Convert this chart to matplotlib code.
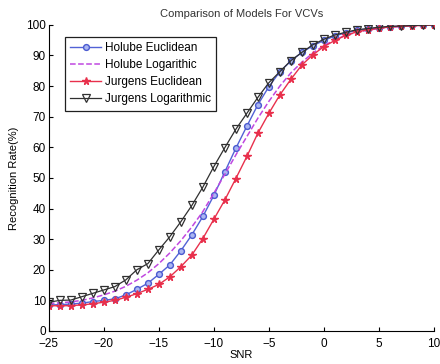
import matplotlib
matplotlib.use("Agg")
import matplotlib.pyplot as plt
import numpy as np

snr = list(range(-25, 11))

holube_euclidean = [8.5, 8.6, 8.8, 9.1, 9.6, 10.0, 10.5, 11.8, 13.6, 15.6, 18.5, 21.6, 26.2,
                    31.4, 37.4, 44.3, 52.0, 59.7, 66.9, 73.9, 79.8, 84.7, 88.2, 91.0, 93.2,
                    94.9, 96.4, 97.4, 98.2, 98.7, 99.1, 99.4, 99.6, 99.8, 99.9, 100.0]
holube_log = [9.0, 9.2, 9.5, 10.0, 10.8, 11.8, 13.0, 14.6, 16.6, 19.0, 22.0, 25.5, 29.5,
              34.0, 39.0, 45.0, 51.2, 57.5, 63.5, 69.5, 75.0, 80.0, 84.3, 87.8, 90.8,
              93.2, 95.1, 96.6, 97.6, 98.3, 98.8, 99.2, 99.5, 99.7, 99.8, 100.0]
jurgens_euclidean = [8.3, 8.2, 8.3, 8.5, 8.9, 9.4, 10.0, 11.0, 12.2, 13.6, 15.2, 17.7, 21.0,
                     24.8, 30.2, 36.5, 42.8, 49.8, 57.0, 64.6, 71.1, 77.1, 82.2, 86.9, 90.2,
                     92.9, 94.9, 96.6, 97.7, 98.4, 98.9, 99.3, 99.5, 99.7, 99.8, 100.0]
jurgens_log = [9.4, 10.0, 10.1, 11.2, 12.3, 13.4, 14.5, 16.7, 20.0, 22.0, 26.5, 30.8, 35.7,
               41.0, 47.0, 53.7, 59.9, 65.9, 71.1, 76.3, 81.1, 84.7, 88.3, 91.0, 93.5,
               95.3, 96.7, 97.6, 98.4, 98.8, 99.2, 99.5, 99.6, 99.8, 99.9, 100.0]

x_ticks = list(range(-25, 11, 5))
y_ticks = list(range(0, 101, 10))

plt.rcParams['font.family'] = ['Liberation Sans', 'DejaVu Sans']

fig = plt.figure(figsize=(4.4, 3.64), dpi=100)
ax = fig.add_axes([0.111, 0.0907, 0.875, 0.841])

ax.plot(snr, holube_euclidean, color='#5262d6', lw=1.0, marker='o', ms=4.2,
        mfc='#aab6f2', mec='#4a5ad0', mew=1.0, label='Holube Euclidean')
ax.plot(snr, holube_log, color='#c048e0', lw=1.1, ls='--', label='Holube Logarithic')
ax.plot(snr, jurgens_euclidean, color='#e8304c', lw=1.0, marker='*', ms=5.5,
        mfc='#e8304c', mec='#e8304c', label='Jurgens Euclidean')
ax.plot(snr, jurgens_log, color='#303030', lw=0.9, marker='v', ms=5.5,
        mfc='none', mec='#303030', mew=0.9, label='Jurgens Logarithmic')

ax.set_xlim(-25, 10)
ax.set_ylim(0, 100)
ax.set_xticks(x_ticks)
ax.set_yticks(y_ticks)
ax.tick_params(direction='in', length=3, labelsize=8.5, width=0.8)
ax.tick_params(axis='x', pad=5)
ax.tick_params(axis='y', pad=2)
for lbl in ax.get_yticklabels():
    lbl.set_verticalalignment('center_baseline')
ax.spines['top'].set_visible(False)
ax.spines['right'].set_visible(False)
ax.set_title('Comparison of Models For VCVs', fontsize=8, color='#333333', pad=6)
ax.set_xlabel('SNR', fontsize=8, labelpad=0)
ax.set_ylabel('Recognition Rate(%)', fontsize=8, labelpad=5)

leg = ax.legend(loc='upper left', bbox_to_anchor=(0.042, 0.96), fontsize=8.5,
                frameon=True, fancybox=False, edgecolor='#202020', framealpha=1,
                handlelength=2.6, handletextpad=0.3, borderpad=0.45, labelspacing=0.42,
                borderaxespad=0)
leg.get_frame().set_linewidth(0.9)

fig.savefig('out.png', dpi=100)
